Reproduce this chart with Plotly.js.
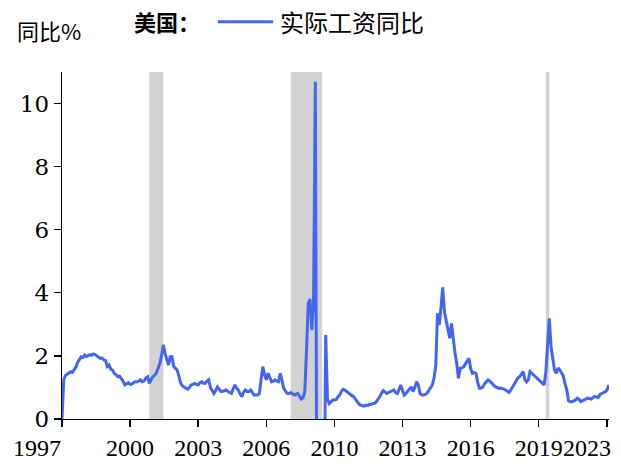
<!DOCTYPE html>
<html>
<head>
<meta charset="utf-8">
<script src="https://cdn.plot.ly/plotly-3.0.1.min.js"></script>
<style>
  html, body { margin: 0; padding: 0; background: #ffffff; }
  #chart { width: 621px; height: 464px; }
</style>
</head>
<body>
<div id="chart"></div>
<script>
// US real wage growth, year on year (%), monthly from Jan 1997
const startYear = 1997;
const realWageYoY = [
  0.00, 1.25, 1.38, 1.42, 1.45, 1.50, 1.48, 1.55, 1.65, 1.80, 1.90, 1.97,
  1.95, 2.03, 1.98, 2.00, 2.04, 2.02, 2.06, 2.04, 2.00, 1.97, 1.92, 1.93,
  1.87, 1.85, 1.66, 1.71, 1.58, 1.55, 1.45, 1.40, 1.34, 1.36, 1.29, 1.20,
  1.08, 1.12, 1.15, 1.10, 1.11, 1.15, 1.18, 1.18, 1.22, 1.24, 1.18, 1.20,
  1.30, 1.34, 1.13, 1.25, 1.34, 1.38, 1.45, 1.60, 1.76, 2.00, 2.35, 2.08,
  1.85, 1.71, 1.97, 1.97, 1.66, 1.60, 1.55, 1.35, 1.13, 1.05, 1.02, 0.98,
  0.94, 1.00, 1.08, 1.10, 1.13, 1.10, 1.08, 1.15, 1.18, 1.13, 1.13, 1.20,
  1.24, 1.00, 0.92, 0.81, 0.90, 1.02, 0.95, 0.87, 0.88, 0.90, 0.92, 0.87,
  0.85, 0.81, 0.95, 1.08, 0.98, 0.92, 0.80, 0.71, 0.85, 0.92, 0.87, 0.87,
  0.92, 0.85, 0.76, 0.76, 0.76, 0.80, 1.24, 1.66, 1.40, 1.24, 1.45, 1.30,
  1.18, 1.20, 1.24, 1.20, 1.18, 1.45, 1.20, 0.97, 0.88, 0.81, 0.80, 0.84,
  0.80, 0.76, 0.79, 0.81, 0.72, 0.63, 0.68, 0.85, 2.20, 3.67, 3.80, 2.82,
  3.70, 10.69, -4.00, -4.00, -4.00, -4.00, -4.00, 2.66, 0.62, 0.49, 0.55, 0.60,
  0.60, 0.62, 0.70, 0.76, 0.88, 0.94, 0.92, 0.87, 0.82, 0.76, 0.74, 0.71,
  0.62, 0.55, 0.48, 0.44, 0.42, 0.41, 0.44, 0.43, 0.47, 0.46, 0.49, 0.50,
  0.55, 0.62, 0.71, 0.82, 0.90, 0.85, 0.81, 0.84, 0.87, 0.90, 0.92, 0.84,
  0.81, 0.95, 1.08, 0.90, 0.76, 0.82, 0.87, 0.95, 1.02, 0.87, 1.00, 1.18,
  1.08, 0.80, 0.77, 0.76, 0.78, 0.82, 0.90, 1.00, 1.08, 1.30, 1.70, 3.35,
  2.98, 3.56, 4.17, 3.40, 3.10, 2.75, 2.56, 3.03, 2.50, 2.10, 1.76, 1.29,
  1.61, 1.62, 1.66, 1.75, 1.87, 1.92, 1.60, 1.45, 1.47, 1.45, 1.15, 0.97,
  0.98, 1.02, 1.12, 1.18, 1.24, 1.20, 1.13, 1.08, 1.02, 1.00, 0.97, 0.98,
  0.97, 0.95, 0.92, 0.88, 0.84, 0.92, 1.02, 1.12, 1.20, 1.30, 1.34, 1.42,
  1.50, 1.25, 1.18, 1.24, 1.50, 1.45, 1.40, 1.35, 1.29, 1.22, 1.18, 1.12,
  1.08, 1.50, 2.40, 3.19, 2.29, 1.85, 1.55, 1.45, 1.62, 1.55, 1.45, 1.36,
  1.10, 0.92, 0.58, 0.55, 0.55, 0.58, 0.60, 0.66, 0.62, 0.55, 0.58, 0.60,
  0.64, 0.66, 0.65, 0.63, 0.68, 0.71, 0.70, 0.68, 0.78, 0.81, 0.84, 0.86,
  0.92, 1.08
];

// NBER recession periods
const recessionStarts = ['2001-03-01', '2007-12-01', '2020-02-01'];
const recessionEnds   = ['2001-11-01', '2009-06-01', '2020-04-01'];

// Tick positions (every 39 months) and their year labels
const tickDates  = ['1997-01-01', '2000-04-01', '2003-07-01', '2006-10-01', '2010-01-01',
                    '2013-04-01', '2016-07-01', '2019-10-01', '2023-01-01'];
const tickLabels = ['1997', '2000', '2003', '2006', '2010', '2013', '2016', '2019', '2023'];

const yTicks = [0, 2, 4, 6, 8, 10];

const seriesName = '实际工资同比';
const regionLabel = '美国：';
const unitLabel = '同比%';

const monthDates = realWageYoY.map((_, i) => {
  const y = startYear + Math.floor(i / 12);
  const m = (i % 12) + 1;
  return y + '-' + String(m).padStart(2, '0') + '-01';
});

const lineColor = '#4466ee';
const serif = 'Liberation Serif, Times New Roman, serif';
const wideSerif = 'DejaVu Serif, serif';
const cjk = 'Noto Sans CJK SC, sans-serif';
const tickSize = 24;

const trace = {
  x: monthDates,
  y: realWageYoY,
  type: 'scatter',
  mode: 'lines',
  name: seriesName,
  line: { color: lineColor, width: 3 },
  hoverinfo: 'x+y'
};

const shapes = recessionStarts.map((s, i) => ({
  type: 'rect', xref: 'x', yref: 'paper',
  x0: s, x1: recessionEnds[i], y0: 0, y1: 1,
  fillcolor: '#d2d2d2', line: { width: 0 }, layer: 'below'
}));

// legend swatch
shapes.push({
  type: 'line', xref: 'paper', yref: 'paper',
  x0: 0.285, x1: 0.386, y0: 1.145, y1: 1.145,
  line: { color: lineColor, width: 3 }
});

// the first and last year labels sit flush against the plot edges,
// so they are drawn as edge-aligned annotations instead of centred ticks
const lastIdx = tickLabels.length - 1;
const axisTickText = tickLabels.map((t, i) => (i === 0 || i === lastIdx) ? '' : t);

const layout = {
  width: 621, height: 464,
  margin: { l: 62, r: 12, t: 72, b: 45 },
  paper_bgcolor: '#ffffff', plot_bgcolor: '#ffffff',
  showlegend: false,
  xaxis: {
    type: 'date',
    range: ['1997-01-01', '2023-02-05'],
    tickvals: tickDates, ticktext: axisTickText,
    showgrid: false, zeroline: false,
    showline: true, linecolor: '#000000', linewidth: 1.3,
    ticks: 'outside', ticklen: 7, tickwidth: 1.3, tickcolor: '#000000',
    tickfont: { family: serif, size: tickSize, color: '#000000' }
  },
  yaxis: {
    range: [0, 11],
    tickvals: yTicks,
    showgrid: false, zeroline: false,
    showline: true, linecolor: '#000000', linewidth: 1.3,
    ticks: 'outside', ticklen: 7, tickwidth: 1.3, tickcolor: '#000000',
    tickfont: { family: wideSerif, size: 23, color: '#000000' }
  },
  shapes: shapes,
  annotations: [
    {
      text: tickLabels[0], xref: 'x', yref: 'paper',
      x: tickDates[0], y: 0, xanchor: 'right', yanchor: 'top', yshift: -14, xshift: 1,
      showarrow: false, font: { family: serif, size: tickSize, color: '#000000' }
    },
    {
      text: tickLabels[lastIdx], xref: 'x', yref: 'paper',
      x: tickDates[lastIdx], y: 0, xanchor: 'right', yanchor: 'top', yshift: -14, xshift: 6,
      showarrow: false, font: { family: serif, size: tickSize, color: '#000000' }
    },
    {
      text: unitLabel, xref: 'paper', yref: 'paper',
      x: -0.086, y: 1.121, xanchor: 'left', yanchor: 'middle',
      showarrow: false, font: { family: cjk, size: 22, color: '#000000' }
    },
    {
      text: '<b>' + regionLabel + '</b>', xref: 'paper', yref: 'paper',
      x: 0.128, y: 1.148, xanchor: 'left', yanchor: 'middle',
      showarrow: false, font: { family: cjk, size: 22, color: '#000000' }
    },
    {
      text: seriesName, xref: 'paper', yref: 'paper',
      x: 0.394, y: 1.145, xanchor: 'left', yanchor: 'middle',
      showarrow: false, font: { family: cjk, size: 24, color: '#000000' }
    }
  ]
};

Plotly.newPlot('chart', [trace], layout, { displayModeBar: false, staticPlot: true });
</script>
</body>
</html>
